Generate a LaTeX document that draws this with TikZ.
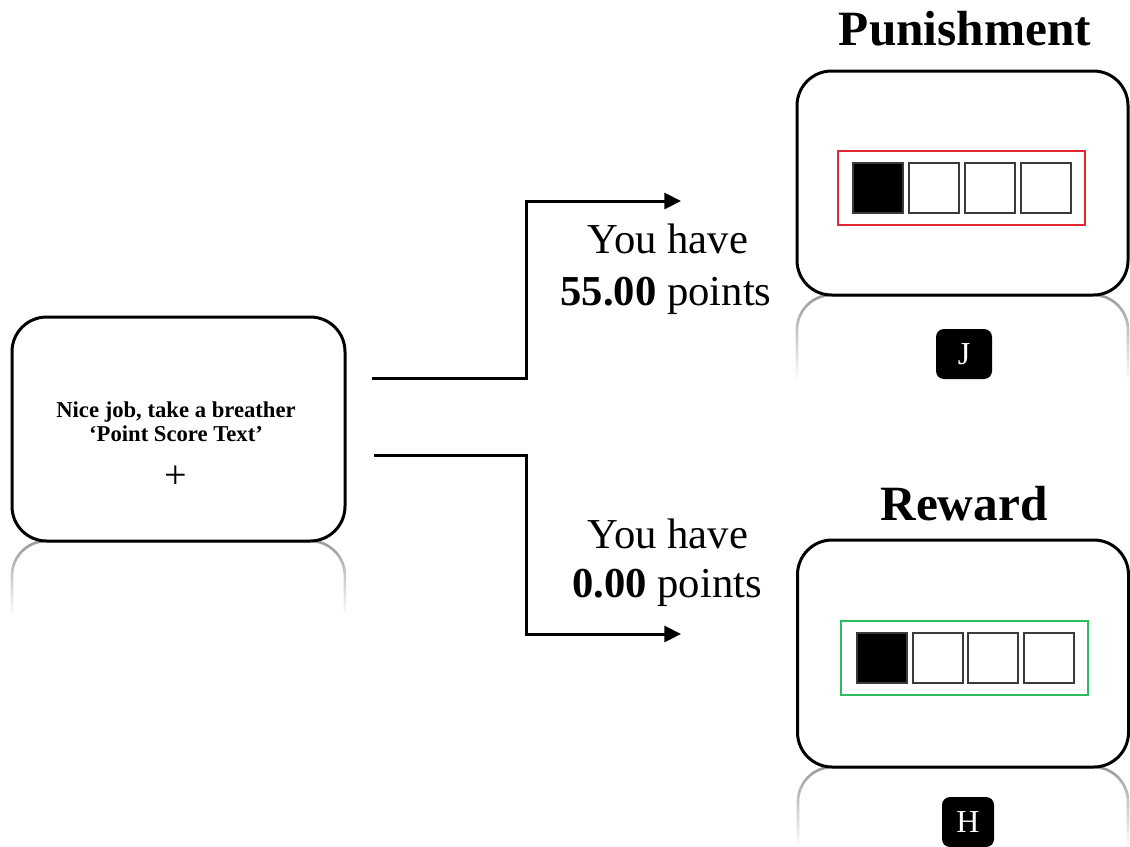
\documentclass[tikz,border=0pt]{standalone}
\usepackage{fontspec}
\setmainfont{Liberation Serif}
\usetikzlibrary{arrows.meta,fadings}
\definecolor{punred}{HTML}{E0282E}
\definecolor{rewgreen}{HTML}{2EBD5E}
\definecolor{celledge}{HTML}{3A3A3A}
\tikzset{
  screen/.style={draw=black, line width=2.25pt, rounded corners=26pt, fill=white, inner sep=0pt},
  frame/.style={line width=1.5pt, inner sep=0pt, minimum width=185pt, minimum height=55.5pt},
  cell/.style={draw=celledge, line width=1.5pt, minimum width=37.5pt, minimum height=37.5pt, inner sep=0pt},
  keybox/.style={fill=black, rounded corners=6pt, text=white, inner sep=0pt, minimum height=37.5pt, font=\fontsize{24}{28}\selectfont},
  refl/.style={draw=black!40, line width=2pt, rounded corners=26pt, path fading=south},
  conn/.style={line width=2.25pt, -{Triangle[length=12.5pt,width=12pt]}},
  title/.style={anchor=base, font=\fontsize{37}{44}\selectfont\bfseries},
  pts/.style={anchor=base, font=\fontsize{32}{38}\selectfont},
  msg/.style={anchor=base, font=\fontsize{17}{20}\selectfont\bfseries}
}
\begin{document}
\begin{tikzpicture}[x=0.75pt,y=-0.75pt]
\useasboundingbox (0,0) rectangle (1130,846);
% reflections
\draw[refl] (12,615) -- (12,541) -- (345,541) -- (345,615);
\draw[refl] (797,380) -- (797,295) -- (1128,295) -- (1128,380);
\draw[refl] (798,846) -- (798,767) -- (1128,767) -- (1128,846);
% left screen
\node[screen, minimum width=249.75pt, minimum height=168pt] (start) at (178.5,429) {};
\node[msg] (m1) at (176,417) {Nice job, take a breather};
\node[msg] (m2) at (176,441) {‘Point Score Text’};
\node[font=\fontsize{30}{34}\selectfont] (fix) at (176,477) {+};
% punishment screen
\node[title] (ptitle) at (965,45) {Punishment};
\node[screen, minimum width=248.25pt, minimum height=168pt] (pun) at (962.5,183) {};
\node[frame, draw=punred] (pframe) at (961.5,188) {};
\node[cell, fill=black] (p1) at (878,188) {};
\node[cell] (p2) at (934,188) {};
\node[cell] (p3) at (989.5,188) {};
\node[cell] (p4) at (1045.5,188) {};
\node[keybox, minimum width=42pt] (jkey) at (964,354) {J};
% reward screen
\node[title] (rtitle) at (964,520) {Reward};
\node[screen, minimum width=248.25pt, minimum height=170.25pt] (rew) at (963,653.5) {};
\node[frame, draw=rewgreen] (rframe) at (964.5,658) {};
\node[cell, fill=black] (r1) at (881.5,658) {};
\node[cell] (r2) at (937.5,658) {};
\node[cell] (r3) at (993,658) {};
\node[cell] (r4) at (1048.5,658) {};
\node[keybox, minimum width=39pt] (hkey) at (968,822) {H};
% labels
\node[pts] (u1) at (668,253) {You have};
\node[pts] (u2) at (666,305) {\textbf{55.00} points};
\node[pts] (l1) at (668,548) {You have};
\node[pts] (l2) at (667,597) {\textbf{0.00} points};
% connectors
\coordinate (a1) at (372,378.5);
\coordinate (b1) at (681,201);
\coordinate (a2) at (374,455);
\coordinate (b2) at (681,634);
\draw[conn] (a1) -- (526,378.5) |- (b1);
\draw[conn] (a2) -- (526,455) |- (b2);
\end{tikzpicture}
\end{document}
